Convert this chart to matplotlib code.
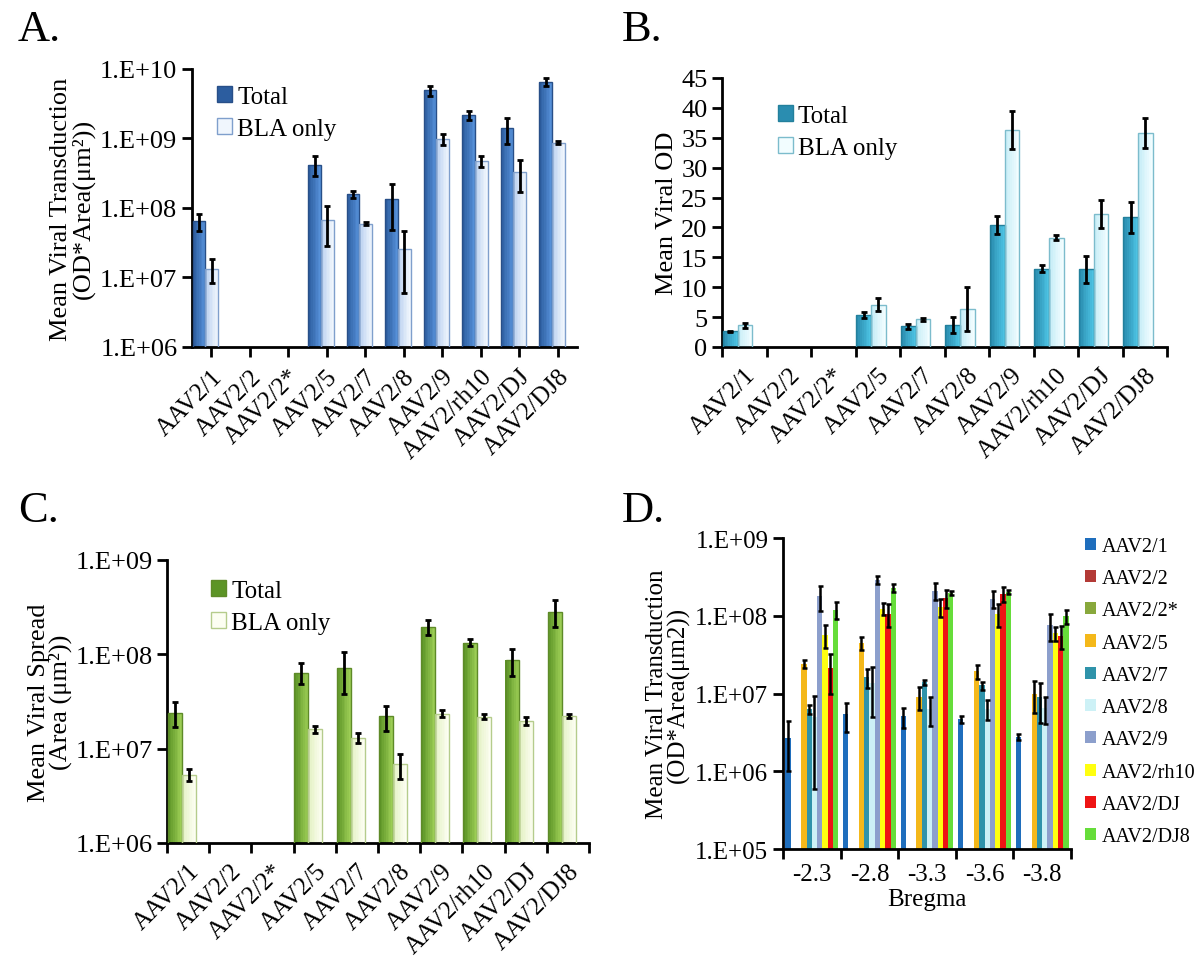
import numpy as np
import matplotlib
matplotlib.use("Agg")
import matplotlib.pyplot as plt
from matplotlib.colors import to_rgb
from matplotlib.patches import Patch
from matplotlib.ticker import FixedLocator, FuncFormatter, NullLocator

plt.rcParams['font.family'] = ['Liberation Serif', 'DejaVu Serif']

nan = np.nan
serotypes = ["AAV2/1", "AAV2/2", "AAV2/2*", "AAV2/5", "AAV2/7", "AAV2/8",
             "AAV2/9", "AAV2/rh10", "AAV2/DJ", "AAV2/DJ8"]

# A: transduction (OD*Area)
a_total = [6.4e7, nan, nan, 4.2e8, 1.58e8, 1.35e8, 4.9e9, 2.15e9, 1.4e9, 6.5e9]
a_total_err = [1.8e7, nan, nan, 1.35e8, 2.0e7, 8.7e7, 8.5e8, 3.3e8, 5.7e8, 8.5e8]
a_bla = [1.34e7, nan, nan, 6.8e7, 5.9e7, 2.6e7, 9.8e8, 4.7e8, 3.3e8, 8.7e8]
a_bla_err = [5.0e6, nan, nan, 4.0e7, 3.0e6, 2.0e7, 1.8e8, 8.0e7, 1.6e8, 5.0e7]

# B: mean OD
b_total = [2.6, nan, nan, 5.4, 3.45, 3.7, 20.4, 13.1, 13.0, 21.7]
b_total_err = [0.15, nan, nan, 0.5, 0.4, 1.3, 1.5, 0.6, 2.25, 2.6]
b_bla = [3.6, nan, nan, 7.06, 4.6, 6.4, 36.3, 18.3, 22.2, 35.8]
b_bla_err = [0.4, nan, nan, 1.05, 0.2, 3.65, 3.25, 0.45, 2.35, 2.55]

# C: spread (Area)
c_total = [2.4e7, nan, nan, 6.4e7, 7.2e7, 2.2e7, 1.96e8, 1.33e8, 8.7e7, 2.83e8]
c_total_err = [7.0e6, nan, nan, 1.6e7, 3.4e7, 6.5e6, 3.4e7, 1.2e7, 2.8e7, 9.0e7]
c_bla = [5.3e6, nan, nan, 1.6e7, 1.31e7, 6.8e6, 2.35e7, 2.18e7, 1.98e7, 2.2e7]
c_bla_err = [7.5e5, nan, nan, 1.5e6, 1.5e6, 2.0e6, 2.0e6, 1.2e6, 2.0e6, 1.0e6]

# D: transduction by bregma
bregma = ["-2.3", "-2.8", "-3.3", "-3.6", "-3.8"]
d_vals = {
    "AAV2/1":    [2.7e6, 5.4e6, 5.1e6, 4.7e6, 2.74e6],
    "AAV2/2":    [nan, nan, nan, nan, nan],
    "AAV2/2*":   [nan, nan, nan, nan, nan],
    "AAV2/5":    [2.4e7, 4.45e7, 9.1e6, 1.92e7, 1.0e7],
    "AAV2/7":    [6.3e6, 1.62e7, 1.4e7, 1.27e7, 9.0e6],
    "AAV2/8":    [5.0e6, 1.35e7, 6.4e6, 6.4e6, 6.6e6],
    "AAV2/9":    [1.8e8, 2.9e8, 2.1e8, 1.66e8, 7.7e7],
    "AAV2/rh10": [5.7e7, 1.23e8, 1.3e8, 1.06e8, 6.0e7],
    "AAV2/DJ":   [2.1e7, 1.06e8, 1.69e8, 1.92e8, 5.5e7],
    "AAV2/DJ8":  [1.2e8, 2.3e8, 1.96e8, 2.02e8, 9.9e7],
}
d_errs = {
    "AAV2/1":    [1.7e6, 2.2e6, 1.5e6, 5.0e5, 2.5e5],
    "AAV2/2":    [nan, nan, nan, nan, nan],
    "AAV2/2*":   [nan, nan, nan, nan, nan],
    "AAV2/5":    [3.0e6, 8.5e6, 3.0e6, 4.0e6, 4.4e6],
    "AAV2/7":    [8.0e5, 4.5e6, 1.0e6, 1.5e6, 4.8e6],
    "AAV2/8":    [4.4e6, 8.5e6, 2.6e6, 1.9e6, 2.5e6],
    "AAV2/9":    [6.4e7, 3.5e7, 5.0e7, 4.0e7, 2.9e7],
    "AAV2/rh10": [1.8e7, 2.2e7, 3.5e7, 3.4e7, 1.2e7],
    "AAV2/DJ":   [1.1e7, 3.4e7, 4.5e7, 4.0e7, 1.8e7],
    "AAV2/DJ8":  [3.0e7, 2.5e7, 1.0e7, 1.0e7, 2.1e7],
}
d_colors = ["#1f6ebd", "#b33a36", "#88a83c", "#f4b81a", "#2f93aa",
            "#cdf1f6", "#8c9fcc", "#ffff10", "#ee1414", "#66dd3a"]

ERR_KW = dict(fmt="none", ecolor="black", elinewidth=2, capsize=2.5,
              capthick=2, zorder=5)


def sci_fmt(v, pos):
    return "1.E+%02d" % int(round(np.log10(v)))


def style_axes(ax, size=19):
    for s in ("top", "right"):
        ax.spines[s].set_visible(False)
    for s in ("left", "bottom"):
        ax.spines[s].set_linewidth(2)
    ax.tick_params(axis="both", which="both", width=2, length=7,
                   direction="out", labelsize=size)


def shaded_bars(ax, x, h, w, c_left, c_right, edge, n=8):
    # fake the excel 3d look with narrow strips going dark -> light
    c0, c1 = np.array(to_rgb(c_left)), np.array(to_rgb(c_right))
    for k in range(n):
        t = k / (n - 1)
        ax.bar(x - w / 2 + (k + 0.5) * w / n, h, w / n + 0.002,
               color=c0 + (c1 - c0) * t, linewidth=0, zorder=2)
    ax.bar(x, h, w, fill=False, edgecolor=edge, linewidth=1.0, zorder=3)


def pair_panel(ax, tot, tot_err, bla, bla_err, cols, legend_xy):
    x = np.arange(len(serotypes))
    w = 0.33
    off = -0.15
    shaded_bars(ax, x + off - w / 2, tot, w, cols[0], cols[1], cols[2])
    shaded_bars(ax, x + off + w / 2, bla, w, cols[3], cols[4], cols[5])
    ax.errorbar(x + off - w / 2, tot, yerr=tot_err, **ERR_KW)
    ax.errorbar(x + off + w / 2, bla, yerr=bla_err, **ERR_KW)
    ax.set_xlim(-0.5, len(serotypes) - 0.5)
    style_axes(ax)
    handles = [Patch(facecolor=cols[0], edgecolor=cols[2], label="Total"),
               Patch(facecolor=cols[4], edgecolor=cols[5], label="BLA only")]
    ax.legend(handles=handles, loc="upper left", bbox_to_anchor=legend_xy,
              fontsize=18, frameon=False, handlelength=0.6, handleheight=0.6,
              handletextpad=0.2, labelspacing=0.4, borderaxespad=0,
              borderpad=0)


def between_ticks(ax, labels, **kw):
    n = len(labels)
    ax.set_xticks(np.arange(n + 1) - 0.5)
    ax.set_xticklabels([])
    ax.set_xticks(np.arange(n), minor=True)
    ax.set_xticklabels(labels, minor=True, **kw)
    ax.tick_params(axis="x", which="minor", length=0)


rot = dict(rotation=45, ha="right", rotation_mode="anchor", fontsize=18)

fig = plt.figure(figsize=(12, 9.62), dpi=100)

# Panel A
axA = fig.add_axes([0.160, 0.6383, 0.3208, 0.289])
axA.set_yscale("log")
pair_panel(axA, a_total, a_total_err, a_bla, a_bla_err,
           ["#2c5d9f", "#5690d8", "#284f88", "#bcd2f0", "#f0f6fd", "#7f9fcc"],
           (0.065, 0.94))
axA.set_ylim(1e6, 1e10)
axA.yaxis.set_major_locator(FixedLocator([1e6, 1e7, 1e8, 1e9, 1e10]))
axA.yaxis.set_minor_locator(NullLocator())
axA.yaxis.set_major_formatter(FuncFormatter(sci_fmt))
axA.set_xticks(np.arange(len(serotypes)))
axA.set_xticklabels(serotypes, **rot)
axA.tick_params(axis="x", pad=6)
axA.set_ylabel("Mean Viral Transduction\n(OD*Area(μm²))", fontsize=19,
               linespacing=0.95, labelpad=4)
fig.text(0.015, 0.99, "A.", fontsize=32, va="top")

# Panel B
axB = fig.add_axes([0.6017, 0.6383, 0.3708, 0.2796])
pair_panel(axB, b_total, b_total_err, b_bla, b_bla_err,
           ["#2a8db0", "#4cc2e2", "#23809c", "#c6edf7", "#f2fdff", "#7cbccc"],
           (0.125, 0.9))
axB.set_ylim(0, 45)
axB.set_yticks(np.arange(0, 46, 5))
between_ticks(axB, serotypes, **rot)
axB.tick_params(axis="x", which="minor", pad=12)
axB.set_ylabel("Mean Viral OD", fontsize=19, labelpad=2)
fig.text(0.518, 0.99, "B.", fontsize=32, va="top")

# Panel C
axC = fig.add_axes([0.1392, 0.1227, 0.3517, 0.2942])
axC.set_yscale("log")
pair_panel(axC, c_total, c_total_err, c_bla, c_bla_err,
           ["#5c9426", "#9ccd55", "#5e8a28", "#e4f1c4", "#fcfef2", "#b5cc8c"],
           (0.105, 0.93))
axC.set_ylim(1e6, 1e9)
axC.yaxis.set_major_locator(FixedLocator([1e6, 1e7, 1e8, 1e9]))
axC.yaxis.set_minor_locator(NullLocator())
axC.yaxis.set_major_formatter(FuncFormatter(sci_fmt))
between_ticks(axC, serotypes, **rot)
axC.tick_params(axis="x", which="minor", pad=12)
axC.set_ylabel("Mean Viral Spread\n(Area (μm²))", fontsize=19,
               linespacing=0.95, labelpad=2)
fig.text(0.015, 0.49, "C.", fontsize=32, va="top")

# Panel D
axD = fig.add_axes([0.6525, 0.1164, 0.24, 0.3233])
axD.set_yscale("log")
xg = np.arange(len(bregma))
bw = 0.092
for i, (name, col) in enumerate(zip(d_vals, d_colors)):
    axD.bar(xg + (i - 4.5) * bw, d_vals[name], bw, color=col, label=name,
            zorder=2)
    axD.errorbar(xg + (i - 4.5) * bw, d_vals[name], yerr=d_errs[name],
                 fmt="none", ecolor="black", elinewidth=1.8, capsize=1.8,
                 capthick=1.8, zorder=5)
axD.set_xlim(-0.5, len(bregma) - 0.5)
axD.set_ylim(1e5, 1e9)
style_axes(axD, size=18)
axD.yaxis.set_major_locator(FixedLocator([1e5, 1e6, 1e7, 1e8, 1e9]))
axD.yaxis.set_minor_locator(NullLocator())
axD.yaxis.set_major_formatter(FuncFormatter(sci_fmt))
between_ticks(axD, bregma, fontsize=18)
axD.tick_params(axis="x", which="minor", pad=10)
axD.set_xlabel("Bregma", fontsize=18, labelpad=2)
axD.set_ylabel("Mean Viral Transduction\n(OD*Area(μm2))", fontsize=18,
               linespacing=0.95, labelpad=4)
axD.legend(loc="upper left", bbox_to_anchor=(1.02, 1.03), fontsize=14.5,
           frameon=False, handlelength=0.55, handleheight=0.55,
           handletextpad=0.3, labelspacing=0.66, borderaxespad=0)
fig.text(0.518, 0.49, "D.", fontsize=32, va="top")

fig.savefig("out.png", dpi=100)
